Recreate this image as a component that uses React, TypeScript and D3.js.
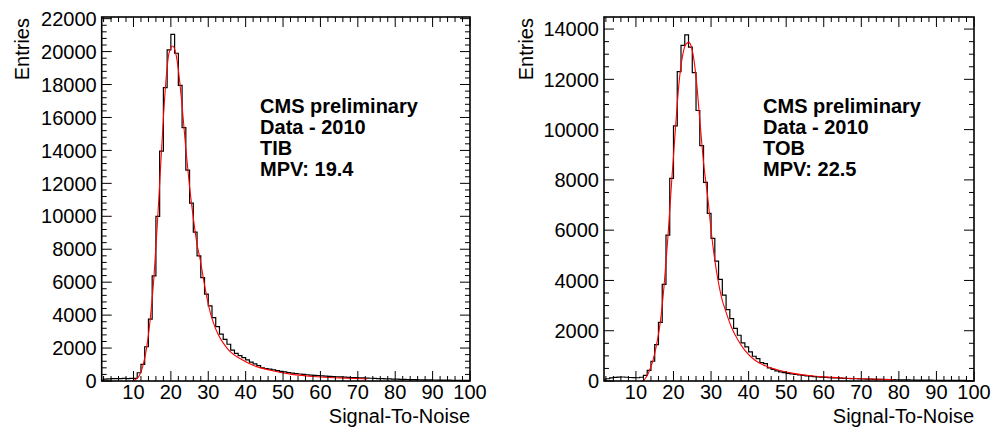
import React from "react";
import * as d3 from "d3";

// histogram binning: 1-unit bins, first lower edge at 1
const BIN_START = 1;
const X_MIN = 1.5;
const X_MAX = 100;

const xMajor = [10, 20, 30, 40, 50, 60, 70, 80, 90, 100];

const tibYTicks = [0, 2000, 4000, 6000, 8000, 10000, 12000, 14000, 16000, 18000, 20000, 22000];
const tobYTicks = [0, 2000, 4000, 6000, 8000, 10000, 12000, 14000];

// bin contents, bins [1,2] ... [99,100]
const tibCounts = [
  60, 110, 130, 140, 150, 150, 155, 150, 155, 160,
  500, 1010, 2080, 3760, 6380, 10000, 13960, 17810, 20100, 21050,
  19900, 17950, 15380, 12800, 10800, 9040, 7600, 6280, 5270, 4560,
  3850, 3300, 2840, 2530, 2230, 1880, 1680, 1540, 1420, 1280,
  1140, 1040, 930, 805, 760, 715, 670, 625, 590, 550,
  515, 480, 455, 425, 400, 380, 360, 345, 330, 315,
  298, 285, 270, 258, 245, 236, 225, 214, 205, 196,
  186, 176, 166, 158, 148, 140, 131, 123, 117, 110,
  103, 97, 92, 86, 81, 77, 73, 69, 65, 61,
  58, 55, 52, 49, 46, 44, 42, 40, 38,
];

const tobCounts = [
  40, 90, 125, 145, 155, 160, 150, 140, 135, 130,
  150, 227, 425, 785, 1450, 2330, 3840, 5800, 8060, 10150,
  12310, 13350, 13770, 13280, 12270, 10760, 9360, 7900, 6670, 5670,
  4770, 4040, 3415, 2840, 2485, 2090, 1820, 1515, 1355, 1155,
  985, 890, 730, 690, 520, 465, 400, 360, 335, 305,
  280, 258, 240, 222, 206, 191, 178, 166, 155, 145,
  136, 128, 120, 113, 106, 100, 95, 90, 85, 80,
  76, 72, 68, 64, 61, 58, 55, 52, 49, 46,
  44, 42, 40, 38, 36, 34, 33, 31, 30, 28,
  27, 26, 25, 24, 23, 22, 21, 20, 19,
];

// fitted curves as (signal-to-noise, entries)
const tibFit: [number, number][] = [
  [9.6, 0], [10.5, 80], [11.5, 300], [12.5, 900], [13.5, 2000], [14.5, 3800],
  [15.5, 6400], [16.5, 10000], [17.5, 14000], [18.5, 17700], [19.5, 19900],
  [20.5, 20340], [21.3, 19900], [22, 18900], [23, 16700], [24, 14100],
  [25, 11800], [26, 9900], [27, 8300], [27.9, 7300], [28.75, 6150],
  [29.65, 5050], [30.55, 4150], [31.5, 3450], [32.5, 2900], [33.5, 2480],
  [34.5, 2150], [36, 1750], [38.6, 1350], [42, 950], [46.6, 650], [52, 420],
  [59, 260], [65, 190], [72.5, 130],
];

const tobFit: [number, number][] = [
  [11.8, 0], [12.5, 100], [13.5, 380], [14.5, 800], [15.5, 1450], [16.5, 2350],
  [17.5, 3800], [18.5, 5700], [19.5, 7900], [20.5, 10000], [21.5, 11900],
  [22.5, 13000], [23.3, 13400], [24.1, 13470], [25, 13150], [26, 12100],
  [27, 10400], [28, 8700], [29.2, 7200], [30.1, 5870], [31, 4810],
  [31.85, 4010], [32.75, 3350], [34.1, 2690], [35.4, 2150], [37.2, 1620],
  [39, 1220], [41.7, 825], [45.2, 560], [48.8, 400], [52.35, 295], [56, 220],
  [60, 165], [65, 120], [70, 90], [75, 68], [78.6, 55],
];

const tibNotes = ["CMS preliminary", "Data - 2010", "TIB", "MPV: 19.4"];
const tobNotes = ["CMS preliminary", "Data - 2010", "TOB", "MPV: 22.5"];

const FONT = "'Liberation Sans', Arial, Helvetica, sans-serif";

type PanelProps = {
  id: string;
  left: number;
  right: number;
  counts: number[];
  fit: [number, number][];
  yMax: number;
  yTicks: number[];
  yMinorStep: number;
  notes: string[];
  titleX: number;
};

function Panel({ id, left, right, counts, fit, yMax, yTicks, yMinorStep, notes, titleX }: PanelProps) {
  const top = 17;
  const bottom = 381;
  const x = d3.scaleLinear().domain([X_MIN, X_MAX]).range([left, right]);
  const y = d3.scaleLinear().domain([0, yMax]).range([bottom, top]);

  const steps: [number, number][] = counts.map((c, i) => [BIN_START + i, c]);
  steps.push([BIN_START + counts.length, counts[counts.length - 1]]);

  const histPath = d3
    .line<[number, number]>()
    .x((d) => x(d[0]))
    .y((d) => y(d[1]))
    .curve(d3.curveStepAfter)(steps);

  const fitPath = d3
    .line<[number, number]>()
    .x((d) => x(d[0]))
    .y((d) => y(d[1]))
    .curve(d3.curveMonotoneX)(fit);

  const xMinor = d3.range(2, X_MAX + 0.1, 2).filter((v) => v % 10 !== 0);
  const yMinor = d3.range(0, yMax, yMinorStep).filter((v) => !yTicks.includes(v));

  const major = 10;
  const minor = 5;

  return (
    <g>
      <defs>
        <clipPath id={id}>
          <rect x={left} y={top} width={right - left} height={bottom - top} />
        </clipPath>
      </defs>

      <g clipPath={`url(#${id})`}>
        <path d={histPath ?? ""} fill="none" stroke="#000" strokeWidth={1.2} />
        <path d={fitPath ?? ""} fill="none" stroke="#ff0000" strokeWidth={1.1} />
      </g>

      {/* ticks on all four sides */}
      <g stroke="#000" strokeWidth={1}>
        {xMajor.map((v) => (
          <g key={`xM${v}`}>
            <line x1={x(v)} x2={x(v)} y1={bottom} y2={bottom - major} />
            <line x1={x(v)} x2={x(v)} y1={top} y2={top + major} />
          </g>
        ))}
        {xMinor.map((v) => (
          <g key={`xm${v}`}>
            <line x1={x(v)} x2={x(v)} y1={bottom} y2={bottom - minor} />
            <line x1={x(v)} x2={x(v)} y1={top} y2={top + minor} />
          </g>
        ))}
        {yTicks.map((v) => (
          <g key={`yM${v}`}>
            <line x1={left} x2={left + major} y1={y(v)} y2={y(v)} />
            <line x1={right} x2={right - major} y1={y(v)} y2={y(v)} />
          </g>
        ))}
        {yMinor.map((v) => (
          <g key={`ym${v}`}>
            <line x1={left} x2={left + minor} y1={y(v)} y2={y(v)} />
            <line x1={right} x2={right - minor} y1={y(v)} y2={y(v)} />
          </g>
        ))}
      </g>

      <rect x={left} y={top} width={right - left} height={bottom - top} fill="none" stroke="#000" strokeWidth={1.6} />

      <g fontFamily={FONT} fontSize={20} fill="#000">
        {xMajor.map((v) => (
          <text key={`xl${v}`} x={x(v)} y={399} textAnchor="middle">
            {v}
          </text>
        ))}
        {yTicks.map((v) => (
          <text key={`yl${v}`} x={left - 5} y={y(v)} dy="0.36em" textAnchor="end">
            {v}
          </text>
        ))}
        <text x={right} y={423} textAnchor="end">
          Signal-To-Noise
        </text>
        <text transform={`translate(${titleX},18) rotate(-90)`} textAnchor="end">
          Entries
        </text>
      </g>

      <g fontFamily={FONT} fontSize={20} fontWeight="bold" fill="#000">
        {notes.map((t, i) => (
          <text key={t} x={left + 0.43 * (right - left)} y={113 + i * 21.1}>
            {t}
          </text>
        ))}
      </g>
    </g>
  );
}

export default function App() {
  return (
    <svg
      width={995}
      height={428}
      viewBox="0 0 995 428"
      style={{ position: "absolute", left: 0, top: 0, background: "#fff" }}
    >
      <rect width={995} height={428} fill="#fff" />
      <Panel
        id="clip-tib"
        left={101.7}
        right={470}
        counts={tibCounts}
        fit={tibFit}
        yMax={22100}
        yTicks={tibYTicks}
        yMinorStep={400}
        notes={tibNotes}
        titleX={29}
      />
      <Panel
        id="clip-tob"
        left={604}
        right={974}
        counts={tobCounts}
        fit={tobFit}
        yMax={14480}
        yTicks={tobYTicks}
        yMinorStep={500}
        notes={tobNotes}
        titleX={533}
      />
    </svg>
  );
}
